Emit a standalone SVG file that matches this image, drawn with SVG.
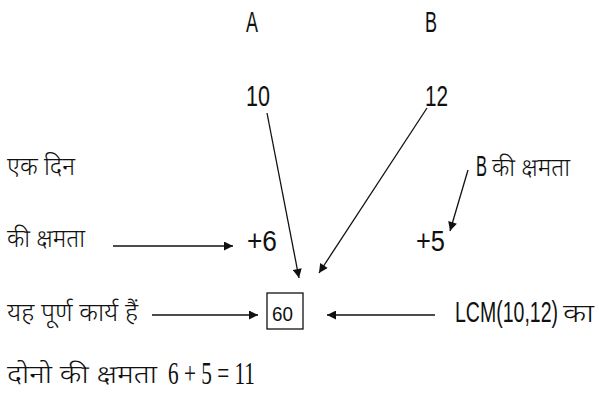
<svg xmlns="http://www.w3.org/2000/svg" width="599" height="401" viewBox="0 0 599 401">
<style>
.lat{font-family:"Liberation Sans","DejaVu Sans",sans-serif;font-size:30px;fill:#111}
.hin{font-family:"Noto Sans Devanagari","Lohit Devanagari","Mangal","Noto Sans",sans-serif;font-size:25px;font-weight:300;fill:#111}
.math{font-family:"Liberation Serif","DejaVu Serif",serif;font-size:31px;fill:#111}
.ln{stroke:#111;stroke-width:1.3;fill:none;marker-end:url(#ah)}
</style>
<defs>
<marker id="ah" viewBox="0 0 10 10" refX="10" refY="5" markerWidth="10" markerHeight="9" markerUnits="userSpaceOnUse" orient="auto">
<path d="M0,0 L10,5 L0,10 z" fill="#111"/>
</marker>
</defs>
<rect width="599" height="401" fill="#fff"/>
<g id="connectors">
<line class="ln" x1="113" y1="246" x2="233" y2="246"/>
<line class="ln" x1="152" y1="315" x2="258" y2="315"/>
<line class="ln" x1="435" y1="315" x2="327" y2="315"/>
<line class="ln" x1="267" y1="113" x2="299" y2="278"/>
<line class="ln" x1="427" y1="108" x2="319" y2="273"/>
<line class="ln" x1="468" y1="170" x2="450" y2="231"/>
</g>
<g id="nodeA"><text class="lat" transform="translate(246,32) scale(0.6,1)" textLength="20" lengthAdjust="spacingAndGlyphs">A</text></g>
<g id="nodeB"><text class="lat" transform="translate(425,32) scale(0.6,1)" textLength="20" lengthAdjust="spacingAndGlyphs">B</text></g>
<g id="node10"><text class="lat" transform="translate(246,106) scale(0.72,1)" textLength="33.3" lengthAdjust="spacingAndGlyphs">10</text></g>
<g id="node12"><text class="lat" transform="translate(425,106) scale(0.72,1)" textLength="32" lengthAdjust="spacingAndGlyphs">12</text></g>
<g id="ekdin"><text class="hin" x="7" y="175" textLength="68" lengthAdjust="spacingAndGlyphs">एक दिन</text></g>
<g id="kshamta"><text class="hin" x="7" y="247" textLength="78" lengthAdjust="spacingAndGlyphs">की क्षमता</text></g>
<g id="plus6"><text class="lat" transform="translate(247,251) scale(0.88,1)" textLength="34.1" lengthAdjust="spacingAndGlyphs">+6</text></g>
<g id="plus5"><text class="lat" transform="translate(416,251) scale(0.85,1)" textLength="34.1" lengthAdjust="spacingAndGlyphs">+5</text></g>
<g id="bkshamta"><text class="lat" transform="translate(476,176) scale(0.55,1)" textLength="20" lengthAdjust="spacingAndGlyphs">B</text><text class="hin" x="492" y="176" textLength="78" lengthAdjust="spacingAndGlyphs">की क्षमता</text></g>
<g id="purn"><text class="hin" x="7" y="321" textLength="131" lengthAdjust="spacingAndGlyphs">यह पूर्ण कार्य हैं</text></g>
<g id="box60"><rect x="267" y="293" width="36" height="36" fill="#fff" stroke="#111" stroke-width="1.3"/><text class="lat" style="font-size:21px" transform="translate(272,321) scale(0.9,1)" textLength="23.3" lengthAdjust="spacingAndGlyphs">60</text></g>
<g id="lcm"><text class="lat" transform="translate(455,322) scale(0.65,1)" textLength="158.5" lengthAdjust="spacingAndGlyphs">LCM(10,12)</text><text class="hin" x="563" y="322" textLength="31" lengthAdjust="spacingAndGlyphs">का</text></g>
<g id="donon"><text class="hin" x="7" y="383" textLength="150" lengthAdjust="spacingAndGlyphs">दोनो की क्षमता</text><text class="math" x="168" y="384" textLength="87" lengthAdjust="spacingAndGlyphs">6 + 5 = 11</text></g>
</svg>
